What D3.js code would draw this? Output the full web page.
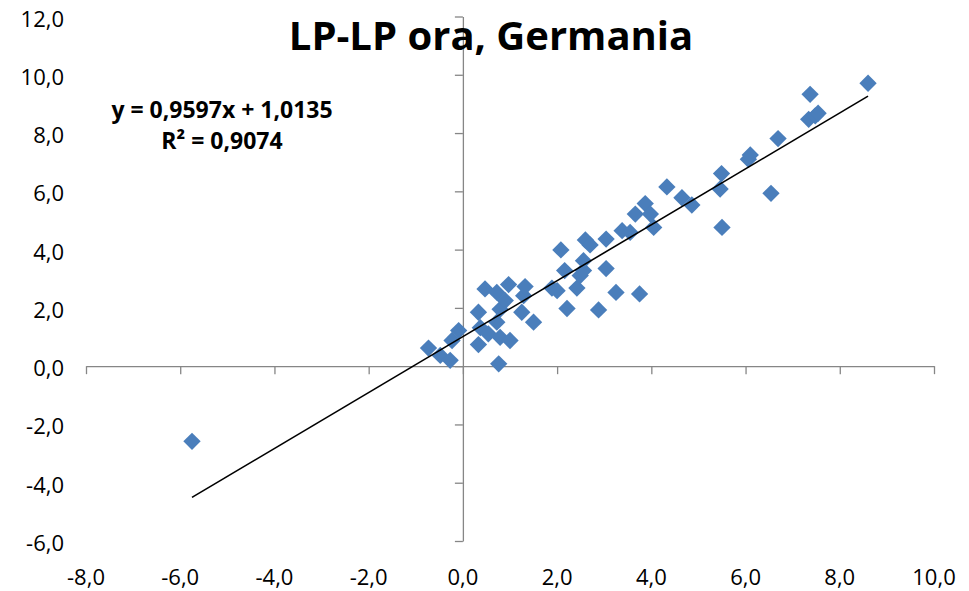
<!DOCTYPE html>
<html>
<head>
<meta charset="utf-8">
<script src="https://d3js.org/d3.v7.min.js"></script>
<style>
body { margin: 0; background: #fff; }
svg { display: block; font-family: "Open Sans", Arial, sans-serif; }
.tick-label { font-size: 22px; fill: #000; }
</style>
</head>
<body>
<svg id="chart" width="969" height="591"></svg>
<script>
var xVals = [-5.75, -0.73, -0.48, -0.27, -0.23, -0.09, 0.33, 0.33, 0.37, 0.47,
             0.54, 0.72, 0.72, 0.76, 0.79, 0.79, 0.90, 0.97, 1.00, 1.25,
             1.29, 1.32, 1.50, 1.89, 2.00, 2.08, 2.16, 2.21, 2.42, 2.49,
             2.56, 2.56, 2.60, 2.70, 2.88, 3.04, 3.04, 3.25, 3.38, 3.55,
             3.66, 3.75, 3.87, 3.98, 4.05, 4.33, 4.65, 4.86, 5.46, 5.49,
             5.50, 6.06, 6.10, 6.54, 6.69, 7.34, 7.37, 7.48, 7.54, 8.60];
var yVals = [-2.58, 0.62, 0.37, 0.20, 0.88, 1.22, 0.74, 1.85, 1.32, 2.65,
             1.11, 2.53, 1.51, 0.08, 1.95, 0.99, 2.25, 2.80, 0.88, 1.85,
             2.42, 2.73, 1.51, 2.68, 2.59, 3.99, 3.28, 1.98, 2.68, 3.11,
             3.62, 3.28, 4.33, 4.16, 1.93, 4.36, 3.35, 2.53, 4.65, 4.59,
             5.22, 2.48, 5.58, 5.22, 4.76, 6.15, 5.78, 5.53, 6.08, 6.61,
             4.76, 7.10, 7.25, 5.93, 7.81, 8.47, 9.33, 8.59, 8.68, 9.71];
var xTicks = [-8, -6, -4, -2, 0, 2, 4, 6, 8, 10];
var yTicks = [-6, -4, -2, 0, 2, 4, 6, 8, 10, 12];
var trendSlope = 0.9597;
var trendIntercept = 1.0135;
var rSquared = 0.9074;
var title = 'LP-LP ora, Germania';

var svg = d3.select('#chart');
var axisColor = '#868686';
var markColor = '#4a7ebb';

var x = d3.scaleLinear().domain([-8, 10]).range([86, 934]);
var y = d3.scaleLinear().domain([-6, 12]).range([541, 16.5]);

//decimal comma and a plain hyphen for negatives
var it = d3.formatLocale({decimal: ',', thousands: '.', grouping: [3], currency: ['', ''], minus: '-'});
var fmt1 = it.format('.1f');
var fmt4 = it.format('.4f');

//x axis sits on y=0, ticks pointing down
var gx = svg.append('g').attr('transform', 'translate(0,' + y(0) + ')')
	.call(d3.axisBottom(x).tickValues(xTicks).tickSize(8).tickSizeOuter(0).tickFormat(''));
//y axis sits on x=0, ticks pointing left
var gy = svg.append('g').attr('transform', 'translate(' + x(0) + ',0)')
	.call(d3.axisLeft(y).tickValues(yTicks).tickSize(8).tickSizeOuter(0).tickFormat(''));
[gx, gy].forEach(function(g) {
	g.selectAll('path, line').attr('stroke', axisColor).attr('stroke-width', 1.3);
});

//tick labels live at the chart edges, not next to the axes
svg.append('g').selectAll('text').data(xTicks).join('text')
	.attr('class', 'tick-label').attr('x', function(d) { return x(d); }).attr('y', 585)
	.attr('text-anchor', 'middle').text(fmt1);
svg.append('g').selectAll('text').data(yTicks).join('text')
	.attr('class', 'tick-label').attr('x', 64).attr('y', function(d) { return y(d) + 10; })
	.attr('text-anchor', 'end').text(fmt1);

//points
var points = xVals.map(function(v, i) { return [v, yVals[i]]; });
svg.append('g').selectAll('path').data(points).join('path')
	.attr('d', d3.symbol().type(d3.symbolSquare).size(150))
	.attr('transform', function(d) { return 'translate(' + x(d[0]) + ',' + y(d[1]) + ') rotate(45)'; })
	.attr('fill', markColor);

//linear trend line over the range of the data
var xExt = d3.extent(xVals);
var trend = xExt.map(function(v) { return [v, trendSlope * v + trendIntercept]; });
svg.append('path').datum(trend)
	.attr('d', d3.line().x(function(d) { return x(d[0]); }).y(function(d) { return y(d[1]); }))
	.attr('fill', 'none').attr('stroke', '#000').attr('stroke-width', 1.6);

//title
svg.append('text').attr('x', 491).attr('y', 50).attr('text-anchor', 'middle')
	.style('font-size', '40px').style('font-weight', 'bold').text(title);

//trend equation
var eq = svg.append('g').style('font-size', '23px').style('font-weight', 'bold').attr('text-anchor', 'middle');
eq.append('text').attr('x', 222).attr('y', 118)
	.text('y = ' + fmt4(trendSlope) + 'x + ' + fmt4(trendIntercept));
eq.append('text').attr('x', 222).attr('y', 149)
	.text('R² = ' + fmt4(rSquared));
</script>
</body>
</html>
